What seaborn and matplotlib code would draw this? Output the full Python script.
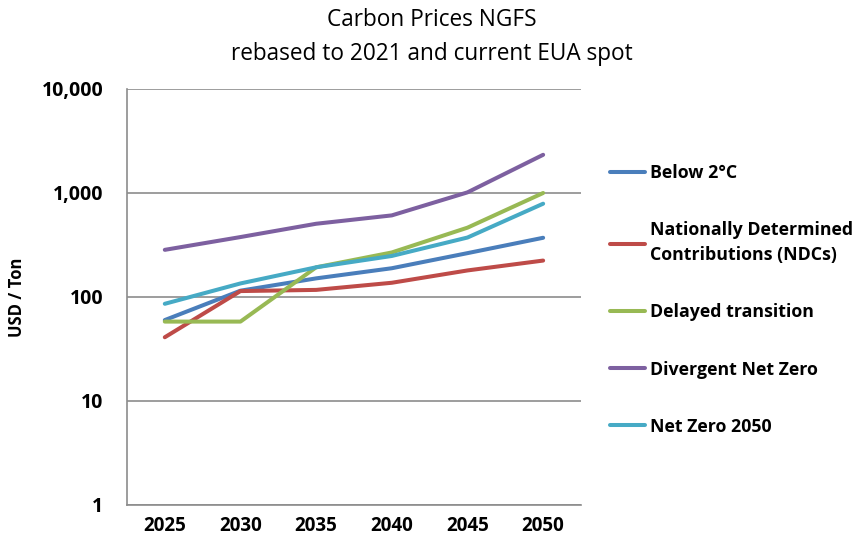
##### Carbon Prices NGFS -- line chart, log scale ##############################
import numpy as np
import pandas as pd
import matplotlib.pyplot as plt
import seaborn as sns
from matplotlib.ticker import FixedLocator, FuncFormatter, NullLocator

sns.set_style('white')
plt.rcParams['font.family'] = ['Open Sans', 'DejaVu Sans']
plt.rcParams['text.color'] = 'black'
plt.rcParams['xtick.color'] = 'black'
plt.rcParams['ytick.color'] = 'black'
plt.rcParams['axes.labelcolor'] = 'black'

# Data (USD / Ton)
years = [2025, 2030, 2035, 2040, 2045, 2050]
below_2c = [60, 115, 151, 189, 264, 371]
ndcs = [41, 114, 117, 137, 180, 224]
delayed = [58, 58, 193, 268, 464, 1000]
divergent = [284, 377, 506, 609, 1014, 2330]
net_zero = [86, 135, 193, 248, 373, 789]

scenarios = ['Below 2°C',
    'Nationally Determined\nContributions (NDCs)',
    'Delayed transition',
    'Divergent Net Zero',
    'Net Zero 2050']
colors = ['#4a7ebb', '#be4b48', '#98b954', '#7d60a0', '#46aac5']

# Long format
df = pd.DataFrame({
    'Year': years * 5,
    'Price': below_2c + ndcs + delayed + divergent + net_zero,
    'Scenario': np.repeat(scenarios, len(years))})

# Figure
fig = plt.figure(figsize=(8.55, 5.42), dpi=100)
ax = fig.add_axes([0.1485, 0.0683, 0.531, 0.7675])

sns.lineplot(ax=ax, data=df, x='Year', y='Price', hue='Scenario',
    hue_order=scenarios, palette=colors, linewidth=2.9)

ax.set_yscale('log')
ax.set_ylim(1, 10000)
ax.yaxis.set_major_locator(FixedLocator([1, 10, 100, 1000, 10000]))
ax.yaxis.set_minor_locator(NullLocator())
ax.yaxis.set_major_formatter(FuncFormatter(lambda v, p: f'{v:,.0f}'))
ax.set_xlim(2022.5, 2052.5)
ax.set_xticks(years)

ax.grid(axis='y', color='#8c8c8c', linewidth=1.2)
for s in ['top', 'right']:
    ax.spines[s].set_visible(False)
for s in ['left', 'bottom']:
    ax.spines[s].set_color('#8c8c8c')
    ax.spines[s].set_linewidth(1.2)

ax.tick_params(axis='both', length=0)
ax.tick_params(axis='x', pad=8, labelsize=13.5)
ax.tick_params(axis='y', pad=17, labelsize=14)
for lbl in ax.get_xticklabels() + ax.get_yticklabels():
    lbl.set_fontweight('bold')

ax.set_xlabel(None)
ax.set_ylabel('USD / Ton', fontsize=12, fontweight='bold')
ax.yaxis.set_label_coords(-0.222, 0.5)

fig.suptitle('Carbon Prices NGFS\nrebased to 2021 and current EUA spot',
    x=0.505, y=0.985, fontsize=16.3, linespacing=1.55)

leg = ax.legend(loc='upper left', bbox_to_anchor=(0.713, 0.697),
    bbox_transform=fig.transFigure, frameon=False, borderpad=0,
    borderaxespad=0, handlelength=2.0, handletextpad=0.25,
    labelspacing=2.2, prop={'weight': 'bold', 'size': 12.8})
for t in leg.get_texts():
    t.set_linespacing(1.5)

plt.savefig('out.png', dpi=100)
